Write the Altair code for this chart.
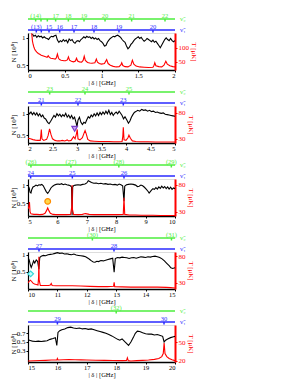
import altair as alt
import pandas as pd

FONT = "Liberation Serif"
BLACK = "#000000"
RED = "#ff0000"
GREEN = "#4cee3c"
BLUE = "#2a2aff"

# ---------------- panel 1 : 0-2 GHz ----------------
p1_nx = [0.06,0.08,0.10,0.12,0.14,0.16,0.18,0.20,0.22,0.24,0.26,0.28,0.30,0.32,0.34,0.36,0.38,0.40,0.42,0.44,
         0.46,0.48,0.50,0.52,0.54,0.56,0.58,0.60,0.62,0.64,0.66,0.68,0.70,0.72,0.74,0.76,0.78,0.80,0.82,0.84,
         0.86,0.88,0.90,0.92,0.94,0.96,0.98,1.00,1.02,1.04,1.06,1.08,1.10,1.12,1.14,1.16,1.18,1.20,1.22,1.24,
         1.26,1.28,1.30,1.32,1.34,1.36,1.38,1.40,1.42,1.44,1.46,1.48,1.50,1.52,1.54,1.56,1.58,1.60,1.62,1.64,
         1.66,1.68,1.70,1.72,1.74,1.76,1.78,1.80,1.82,1.84,1.86,1.88,1.90,1.92,1.94,1.96,1.98,2.00]
p1_ny = [1.07,1.03,1.05,1.01,1.04,1.02,1.03,1.00,1.02,1.00,0.99,0.97,1.01,1.03,1.02,1.04,1.05,0.96,0.92,0.95,
         0.93,0.97,0.94,0.96,0.91,0.98,0.95,0.97,0.92,0.90,0.94,0.95,0.93,0.97,0.99,1.02,1.00,1.03,1.01,1.02,
         0.99,1.01,0.98,1.00,0.97,0.99,0.95,0.93,0.90,0.85,0.86,0.92,0.96,0.99,1.01,1.03,1.02,1.04,1.05,1.03,
         1.01,0.97,0.94,0.92,0.85,0.80,0.83,0.88,0.91,0.95,0.98,1.00,1.02,0.99,1.01,0.97,0.94,0.96,0.99,0.97,
         0.95,0.93,0.96,0.92,0.94,0.90,0.86,0.82,0.87,0.92,0.97,1.00,0.97,0.95,0.99,0.95,0.93,0.95]
p1_tx = [0.05,0.055,0.06,0.07,0.08,0.09,0.10,0.12,0.14,0.16,0.18,0.20,0.22,0.24,0.26,0.275,0.29,0.31,0.33,0.35,
         0.37,0.385,0.40,0.415,0.43,0.45,0.47,0.49,0.51,0.535,0.55,0.565,0.59,0.62,0.645,0.66,0.675,0.70,0.73,0.75,
         0.765,0.78,0.81,0.84,0.87,0.91,0.93,0.945,0.97,1.00,1.04,1.07,1.09,1.12,1.16,1.20,1.24,1.265,1.275,1.29,
         1.32,1.36,1.40,1.42,1.44,1.47,1.52,1.58,1.64,1.70,1.715,1.725,1.74,1.78,1.82,1.85,1.875,1.895,1.93,1.97,2.00]
p1_ty = [152,140,125,112,103,96,91,85,80,77,74,72,70,68,66,72,66,63,62,61,
         60,64,78,63,58,56,55,54,54,57,68,56,52,50,53,63,53,50,49,55,
         70,55,48,46,45,47,60,49,44,42,44,58,44,38,34,32,33,40,47,37,
         33,32,38,56,42,35,32,31,30,31,38,47,36,33,32,38,52,42,36,33,32]
p1_g_pos = [0.104,0.177,0.263,0.376,0.549,0.762,1.048,1.41,1.864]
p1_g_lab = ["(14)","","","17","18","19","20","21","22"]
p1_b_pos = [0.113,0.181,0.286,0.431,0.626,0.898,1.238,1.70]
p1_b_lab = ["(13)","","15","16","17","18","19","20"]

# ---------------- panel 2 : 2-5 GHz ----------------
p2_nx = [2.00,2.03,2.06,2.09,2.12,2.15,2.18,2.21,2.24,2.27,2.30,2.33,2.36,2.40,2.43,2.46,2.50,2.53,2.56,2.59,
         2.62,2.65,2.68,2.71,2.74,2.77,2.80,2.83,2.86,2.89,2.92,2.95,2.98,3.00,3.02,3.05,3.08,3.11,3.14,3.17,
         3.20,3.23,3.26,3.29,3.32,3.35,3.38,3.41,3.44,3.47,3.50,3.53,3.56,3.59,3.62,3.65,3.68,3.71,3.74,3.77,
         3.80,3.83,3.86,3.89,3.92,3.95,3.98,4.02,4.05,4.08,4.11,4.14,4.17,4.20,4.24,4.28,4.32,4.36,4.40,4.44,
         4.48,4.52,4.56,4.60,4.64,4.68,4.72,4.76,4.80,4.84,4.88,4.92,4.96,5.00]
p2_ny = [1.05,1.00,1.04,0.98,1.03,0.97,1.02,0.95,1.00,0.93,0.97,0.90,0.88,0.80,0.77,0.82,0.90,0.96,0.92,1.00,
         0.95,0.99,0.93,0.98,0.94,1.01,0.92,0.97,0.90,0.96,0.88,0.92,0.80,0.70,0.85,0.92,0.80,0.75,0.80,0.78,
         0.86,0.93,0.90,0.97,0.93,1.00,0.95,1.02,0.96,1.03,0.98,1.04,0.99,1.06,1.00,1.08,0.98,1.03,0.96,1.01,
         1.04,1.00,1.06,1.01,0.96,0.88,0.93,0.85,0.78,0.83,0.92,0.98,1.03,1.05,1.08,1.06,1.10,1.08,1.09,1.06,
         1.08,1.05,1.06,1.03,1.04,1.02,1.01,1.02,0.99,0.98,0.97,0.96,0.95,0.94]
p2_tx = [2.00,2.05,2.10,2.15,2.20,2.25,2.26,2.272,2.285,2.32,2.38,2.41,2.44,2.47,2.50,2.55,2.60,2.65,2.70,2.75,
         2.80,2.83,2.88,2.93,2.96,2.99,3.005,3.02,3.06,3.11,3.14,3.165,3.19,3.22,3.27,3.35,3.45,3.55,3.65,3.75,
         3.85,3.92,3.935,3.945,3.96,4.00,4.04,4.06,4.09,4.13,4.20,4.30,4.45,4.60,4.75,4.90,5.00]
p2_ty = [31,30,28.5,27.5,27,27,35,48,30,27,29,36,49,38,30,27,26,26,27,26,
         28,26,27,34,30,40,48,30,28,32,40,46,39,29,26,25.5,25,25,25,24.5,
         24.5,25,35,52,28,27,32,37,31,26,25,24.5,24.5,24,24,24,24]
p2_g_pos = [2.442,3.163,4.061]
p2_g_lab = ["23","24","25"]
p2_b_pos = [2.272,3.02,3.945]
p2_b_lab = ["21","22","23"]
p2_mark = {"x": [2.952], "n": [0.65]}

# ---------------- panel 3 : 5-10 GHz ----------------
p3_nx = [5.00,5.04,5.07,5.10,5.13,5.17,5.22,5.27,5.32,5.37,5.42,5.47,5.52,5.57,5.62,5.67,5.72,5.78,5.84,5.90,
         5.96,6.02,6.08,6.14,6.20,6.26,6.32,6.38,6.44,6.48,6.50,6.52,6.56,6.62,6.70,6.78,6.86,6.94,7.00,7.05,
         7.10,7.16,7.24,7.32,7.40,7.48,7.56,7.64,7.72,7.80,7.88,7.96,8.04,8.10,8.16,8.22,8.265,8.29,8.35,8.42,
         8.50,8.58,8.66,8.72,8.78,8.84,8.90,8.96,9.02,9.08,9.12,9.16,9.20,9.25,9.30,9.35,9.40,9.45,9.50,9.55,
         9.60,9.65,9.70,9.75,9.80,9.85,9.90,9.95,10.00]
p3_ny = [0.98,0.92,0.80,0.78,0.88,0.95,0.97,1.00,0.98,1.01,1.00,1.02,0.98,0.90,0.82,0.77,0.83,0.92,0.97,1.00,
         1.02,1.03,1.02,1.04,1.01,1.03,1.01,1.00,0.98,0.95,0.17,0.95,0.99,1.00,1.01,1.00,1.02,1.03,1.06,1.12,
         1.10,1.07,1.05,1.06,1.04,1.05,1.03,1.04,1.02,1.03,1.01,1.02,1.00,1.03,1.01,0.98,0.55,0.97,1.01,1.02,
         1.03,1.02,1.00,0.96,0.97,1.00,0.98,0.94,0.89,0.83,0.78,0.82,0.86,0.90,0.88,0.93,0.89,0.95,0.91,0.97,
         0.92,0.96,0.90,0.95,0.89,0.94,0.88,0.92,0.90]
p3_tx = [5.00,5.03,5.05,5.07,5.10,5.20,5.30,5.40,5.50,5.58,5.63,5.67,5.71,5.76,5.85,5.95,6.10,6.30,6.45,6.49,
         6.50,6.51,6.55,6.70,6.85,6.95,7.00,7.08,7.25,7.45,7.65,7.85,8.05,8.24,8.265,8.29,8.45,8.65,8.85,9.05,
         9.25,9.50,9.75,10.00]
p3_ty = [35,40,48,30,26,25,25,24.5,25,27,32,37,32,27,25,24.5,24.5,24.5,25,40,
         80,35,25,24.5,25,26.5,26,25,24.5,24.5,24.5,24.5,24.5,25,56,25,24,24,23.5,23.5,
         23.5,23,23,23]
p3_g_pos = [5.10,6.46,8.09,9.875]
p3_g_lab = ["(26)","(27)","(28)","(29)"]
p3_b_pos = [5.09,6.508,8.265]
p3_b_lab = ["24","25","26"]
p3_mark = {"x": [5.67], "n": [0.547]}

# ---------------- panel 4 : 10-15 GHz ----------------
p4_nx = [10.00,10.04,10.08,10.11,10.15,10.19,10.23,10.28,10.33,10.37,10.40,10.45,10.52,10.60,10.68,10.76,10.84,10.92,11.00,11.08,
         11.16,11.24,11.32,11.40,11.48,11.56,11.64,11.72,11.80,11.88,11.96,12.04,12.10,12.16,12.22,12.28,12.34,12.40,12.48,12.56,
         12.64,12.72,12.80,12.88,12.93,12.97,13.04,13.12,13.20,13.28,13.36,13.44,13.52,13.60,13.68,13.76,13.84,13.92,14.00,14.08,
         14.16,14.24,14.32,14.40,14.48,14.56,14.64,14.72,14.80,14.86,14.92,15.00]
p4_ny = [0.92,0.85,0.70,0.63,0.72,0.82,0.76,0.85,0.80,0.58,0.92,0.96,0.98,0.97,1.00,1.01,1.02,1.04,1.06,1.04,
         1.05,1.02,1.03,1.01,1.00,1.02,0.99,0.98,0.97,0.96,0.94,0.90,0.86,0.82,0.79,0.78,0.81,0.80,0.83,0.82,
         0.84,0.86,0.88,0.90,0.49,0.89,0.92,0.91,0.93,0.92,0.91,0.89,0.91,0.92,0.90,0.92,0.94,0.93,0.92,0.94,
         0.93,0.95,0.96,0.94,0.92,0.88,0.82,0.75,0.68,0.62,0.60,0.62]
p4_tx = [10.00,10.04,10.08,10.12,10.16,10.22,10.28,10.34,10.36,10.37,10.38,10.42,10.55,10.70,10.76,10.79,10.82,10.95,11.20,11.50,
         11.80,12.10,12.40,12.70,12.91,12.93,12.95,13.20,13.50,13.80,14.10,14.40,14.70,14.85,15.00]
p4_ty = [30,33,35,33,30,28,27,26,40,79,35,25,25,25,26,29,25,24.5,24.5,24.5,
         24,23.5,23,23,23.5,31,23,22.5,22,22,22,22,21.5,21,20.5]
p4_g_pos = [12.19,14.88]
p4_g_lab = ["(30)","(31)"]
p4_b_pos = [10.374,12.925]
p4_b_lab = ["27","28"]
p4_mark = {"x": [10.09], "n": [0.443]}

# ---------------- panel 5 : 15-20 GHz ----------------
p5_nx = [15.00,15.05,15.10,15.15,15.25,15.35,15.45,15.55,15.65,15.75,15.85,15.93,15.98,16.02,16.08,16.15,16.25,16.35,16.45,16.55,
         16.65,16.75,16.85,16.95,17.05,17.15,17.25,17.35,17.45,17.55,17.65,17.75,17.85,17.95,18.05,18.12,18.20,18.30,18.42,18.50,
         18.58,18.65,18.72,18.80,18.90,19.00,19.10,19.20,19.30,19.40,19.50,19.58,19.63,19.68,19.75,19.85,19.95,20.00]
p5_ny = [0.56,0.54,0.53,0.52,0.51,0.52,0.51,0.52,0.53,0.56,0.58,0.60,0.42,0.72,0.76,0.78,0.80,0.83,0.84,0.82,
         0.81,0.82,0.80,0.81,0.79,0.80,0.78,0.76,0.74,0.72,0.70,0.67,0.64,0.60,0.56,0.54,0.57,0.50,0.42,0.50,
         0.60,0.70,0.75,0.74,0.71,0.69,0.68,0.68,0.66,0.67,0.65,0.63,0.50,0.54,0.57,0.60,0.62,0.63]
p5_tx = [15.00,15.20,15.40,15.60,15.80,15.98,16.00,16.02,16.20,16.40,16.60,16.80,17.00,17.30,17.60,17.90,18.20,18.35,18.38,18.41,
         18.50,18.70,18.90,19.10,19.30,19.45,19.55,19.60,19.63,19.66,19.72,19.80,19.90,20.00]
p5_ty = [20,20.3,20.6,21,21.5,21.5,24,21.5,22,22.3,22,21.8,21.5,21.2,21,20.8,20.5,20.6,25,20.5,
         20,20.5,21,21.5,22.5,24,27,32,49,32,27,24,22,20.5]
p5_g_pos = [18.0]
p5_g_lab = ["(32)"]
p5_b_pos = [16.0,19.626]
p5_b_lab = ["29","30"]

W, H = 147, 37
LBL = "datum.value + ''"

panels_cfg = [
    dict(xdom=[0, 2], xt=[0, 0.5, 1, 1.5, 2], ndom=[0.41, 1.09], nt=[0.5, 1], tdom=[21, 153], tt=[50, 100],
         nx=p1_nx, ny=p1_ny, tx=p1_tx, ty=p1_ty, gp=p1_g_pos, gl=p1_g_lab, bp=p1_b_pos, bl=p1_b_lab, mark=None),
    dict(xdom=[2, 5], xt=[2, 2.5, 3, 3.5, 4, 4.5, 5], ndom=[0.32, 1.18], nt=[0.5, 1], tdom=[22, 93], tt=[30, 80],
         nx=p2_nx, ny=p2_ny, tx=p2_tx, ty=p2_ty, gp=p2_g_pos, gl=p2_g_lab, bp=p2_b_pos, bl=p2_b_lab,
         mark=(p2_mark, "triangle-down", "#c9a0f5", "#7b3fc8")),
    dict(xdom=[5, 10], xt=[5, 6, 7, 8, 9, 10], ndom=[0.14, 1.17], nt=[0.5, 1], tdom=[22, 91], tt=[30, 80],
         nx=p3_nx, ny=p3_ny, tx=p3_tx, ty=p3_ty, gp=p3_g_pos, gl=p3_g_lab, bp=p3_b_pos, bl=p3_b_lab,
         mark=(p3_mark, "circle", "#ffd84a", "#ff8c00")),
    dict(xdom=[10, 15], xt=[10, 11, 12, 13, 14, 15], ndom=[0.0, 1.08], nt=[0.5, 1], tdom=[18.5, 88], tt=[30, 80],
         nx=p4_nx, ny=p4_ny, tx=p4_tx, ty=p4_ty, gp=p4_g_pos, gl=p4_g_lab, bp=p4_b_pos, bl=p4_b_lab,
         mark=(p4_mark, "diamond", "#c8fbfb", "#35d8d8")),
    dict(xdom=[15, 20], xt=[15, 16, 17, 18, 19, 20], ndom=[0.04, 0.89], nt=[0.3, 0.5, 0.7], tdom=[18.3, 78], tt=[20, 50],
         nx=p5_nx, ny=p5_ny, tx=p5_tx, ty=p5_ty, gp=p5_g_pos, gl=p5_g_lab, bp=p5_b_pos, bl=p5_b_lab, mark=None),
]


def make_panel(c):
    xenc = alt.X("x:Q", scale=alt.Scale(domain=c["xdom"], nice=False, zero=False),
                 axis=alt.Axis(values=c["xt"], labelExpr=LBL, title="| δ | [GHz]", grid=False,
                               domainColor=BLACK, domainWidth=1.5, tickColor=BLACK, tickSize=2,
                               labelPadding=0, titleY=12.8, titleBaseline="middle",
                               labelFontSize=6.5, titleFontSize=6.5,
                               labelFont=FONT, titleFont=FONT, labelColor=BLACK, titleColor=BLACK,
                               titleFontWeight="normal"))
    nscale = alt.Scale(domain=c["ndom"], nice=False, zero=False)
    dn = pd.DataFrame({"x": c["nx"], "n": c["ny"]})
    dt = pd.DataFrame({"x": c["tx"], "t": c["ty"]})
    nline = alt.Chart(dn).mark_line(color=BLACK, strokeWidth=1.1, clip=True).encode(
        x=xenc,
        y=alt.Y("n:Q", scale=nscale,
                axis=alt.Axis(orient="left", values=c["nt"], labelExpr=LBL, title="N [10⁸]", grid=False,
                              domainColor=BLACK, domainWidth=1.2, tickColor=BLACK, tickSize=2,
                              labelPadding=1, titlePadding=0, labelFontSize=7, titleFontSize=7,
                              labelFont=FONT, titleFont=FONT, titleFontWeight="normal")))
    layers = [nline]
    if c["mark"] is not None:
        md, shape, fill, stroke = c["mark"]
        layers.append(alt.Chart(pd.DataFrame(md)).mark_point(
            shape=shape, filled=True, fill=fill, stroke=stroke, strokeWidth=1.2, size=32, opacity=1).encode(
            x=xenc, y=alt.Y("n:Q", scale=nscale)))
    # rulers
    for pos, lab, col, yl, sym in [(c["gp"], c["gl"], GREEN, -14, "ν̃₂"), (c["bp"], c["bl"], BLUE, -3, "ν̃₁")]:
        base = pd.DataFrame({"x": [c["xdom"][0]]})
        layers.append(alt.Chart(base).mark_rule(color=col, strokeWidth=1.5).encode(
            x=alt.value(0), x2=alt.value(W), y=alt.value(yl)))
        dr = pd.DataFrame({"x": pos, "lab": lab})
        layers.append(alt.Chart(dr).mark_rule(color=col, strokeWidth=1.5).encode(
            x=xenc, y=alt.value(yl), y2=alt.value(yl + 2.5)))
        layers.append(alt.Chart(dr).mark_text(color=col, fontSize=6.5, font=FONT, baseline="bottom").encode(
            x=xenc, y=alt.value(yl - 0.4), text="lab:N"))
        layers.append(alt.Chart(base).mark_text(color=col, fontSize=7, font=FONT, align="left",
                                                baseline="middle").encode(
            x=alt.value(W + 5), y=alt.value(yl), text=alt.value(sym)))
    inner = alt.layer(*layers)
    tline = alt.Chart(dt).mark_line(color=RED, strokeWidth=1.1, clip=True).encode(
        x=xenc,
        y=alt.Y("t:Q", scale=alt.Scale(domain=c["tdom"], nice=False, zero=False),
                axis=alt.Axis(orient="right", values=c["tt"], labelExpr=LBL, title="T [μK]", grid=False,
                              domainColor=RED, domainWidth=2, tickColor=RED, tickSize=2,
                              labelColor=RED, titleColor=RED, labelPadding=1, titlePadding=2,
                              labelFontSize=7, titleFontSize=7, labelFont=FONT, titleFont=FONT,
                              titleFontWeight="normal")))
    return alt.layer(inner, tline).resolve_scale(y="independent").properties(width=W, height=H)


chart = alt.vconcat(*[make_panel(c) for c in panels_cfg], spacing=-2).properties(
    padding={"left": 0, "top": 4, "right": 0, "bottom": 0}
).configure_view(stroke=None).configure(background="white")

chart.save("out.html", embed_options={"renderer": "svg", "actions": False})
